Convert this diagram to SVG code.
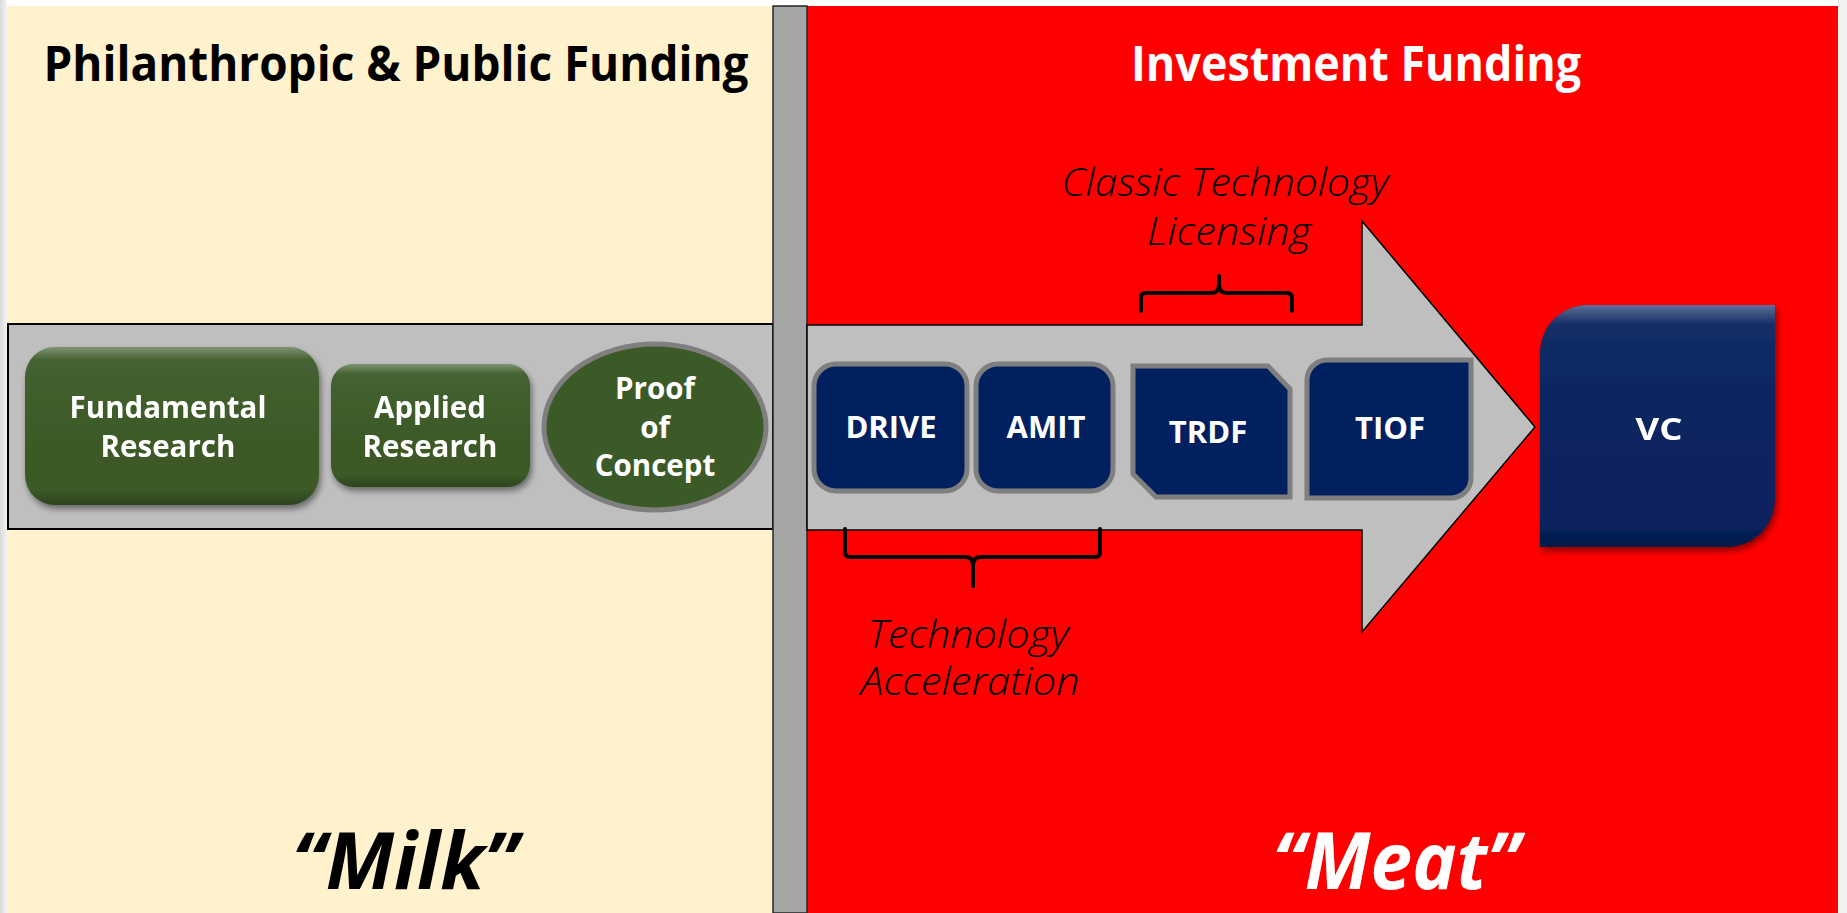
<svg xmlns="http://www.w3.org/2000/svg" width="1847" height="913" viewBox="0 0 1847 913">
<defs>
<style>
.hdr{font-family:"Open Sans","Noto Sans","Liberation Sans",sans-serif;font-weight:bold;}
.lbl{font-family:"Open Sans","Noto Sans","Liberation Sans",sans-serif;font-weight:bold;fill:#fff;font-size:29.5px;text-anchor:middle;}
.lbn{font-family:"Open Sans","Noto Sans","Liberation Sans",sans-serif;font-weight:bold;fill:#fff;font-size:31px;text-anchor:middle;}
.note{font-family:"Open Sans","Noto Sans","Liberation Sans",sans-serif;font-style:italic;font-weight:300;fill:#000;font-size:38px;text-anchor:middle;}
.big{font-family:"Open Sans","Noto Sans","Liberation Sans",sans-serif;font-style:italic;font-weight:bold;font-size:78px;text-anchor:middle;}
.green{fill:#3C5A27;}
.navy{fill:#012060;stroke:#7F7F7F;stroke-width:5;}
.brace{fill:none;stroke:#000;stroke-width:4;stroke-linecap:round;stroke-linejoin:round;}
</style>
<linearGradient id="bevel" x1="0" y1="0" x2="0" y2="1">
<stop offset="0" stop-color="#fff" stop-opacity="0.35"/>
<stop offset="0.08" stop-color="#fff" stop-opacity="0.05"/>
<stop offset="0.9" stop-color="#000" stop-opacity="0"/>
<stop offset="1" stop-color="#000" stop-opacity="0.25"/>
</linearGradient>
<linearGradient id="leftedge" x1="0" y1="0" x2="1" y2="0">
<stop offset="0" stop-color="#d9d9d9"/>
<stop offset="1" stop-color="#f4f4f4"/>
</linearGradient>
<filter id="shadow" x="-10%" y="-10%" width="130%" height="130%">
<feDropShadow dx="2" dy="4" stdDeviation="3" flood-color="#000" flood-opacity="0.45"/>
</filter>
</defs>
<rect x="0" y="0" width="1847" height="913" fill="#ffffff"/>
<rect x="0" y="0" width="7" height="913" fill="url(#leftedge)"/>
<rect x="1838" y="0" width="9" height="913" fill="#f2f2f2"/>
<g id="panel-left">
<rect x="7" y="6" width="767" height="907" fill="#FFF2CC"/>
<text class="hdr" x="396" y="81" font-size="48" text-anchor="middle" textLength="705" lengthAdjust="spacingAndGlyphs" fill="#000">Philanthropic &amp; Public Funding</text>
<text class="big" x="405" y="889" fill="#000" textLength="226" lengthAdjust="spacingAndGlyphs">“Milk”</text>
</g>
<g id="panel-right">
<rect x="807" y="6" width="1031" height="907" fill="#FF0000"/>
<text class="hdr" x="1356" y="81" font-size="48" text-anchor="middle" textLength="450" lengthAdjust="spacingAndGlyphs" fill="#fff">Investment Funding</text>
<text class="big" x="1396" y="889" fill="#fff" textLength="247" lengthAdjust="spacingAndGlyphs">“Meat”</text>
</g>
<g id="band-left">
<rect x="8" y="324" width="765" height="205" fill="#BFBFBF" stroke="#000" stroke-width="2"/>
</g>
<g id="divider">
<rect x="773" y="6" width="34" height="907" fill="#A6A6A6" stroke="#262626" stroke-width="1.5"/>
</g>
<g id="connectors">
<polygon points="807,325 1362,325 1362,221 1535,427 1362,632 1362,530 807,530" fill="#BFBFBF" stroke="#000" stroke-width="1.5"/>
<path class="brace" d="M1141,311 V298 Q1141,293 1146,293 H1212 Q1219,293 1219,284 V276 M1219,284 Q1219,293 1226,293 H1287 Q1292,293 1292,298 V311"/>
<path class="brace" d="M845,529 V552 Q845,557 850,557 H966 Q973,557 973,566 V586 M973,566 Q973,557 980,557 H1095 Q1100,557 1100,552 V529"/>
</g>
<g id="node-fundamental" filter="url(#shadow)">
<rect class="green" x="25" y="347" width="294" height="158" rx="30"/>
<rect x="25" y="347" width="294" height="158" rx="30" fill="url(#bevel)"/>
<text class="lbl" x="168" y="418">Fundamental</text>
<text class="lbl" x="168" y="457">Research</text>
</g>
<g id="node-applied" filter="url(#shadow)">
<rect class="green" x="331" y="364" width="199" height="123" rx="22"/>
<rect x="331" y="364" width="199" height="123" rx="22" fill="url(#bevel)"/>
<text class="lbl" x="430" y="418">Applied</text>
<text class="lbl" x="430" y="457">Research</text>
</g>
<g id="node-poc">
<ellipse cx="655" cy="427" rx="111" ry="83" fill="#3C5A27" stroke="#7F7F7F" stroke-width="5"/>
<text class="lbl" x="655" y="399">Proof</text>
<text class="lbl" x="655" y="438">of</text>
<text class="lbl" x="655" y="476">Concept</text>
</g>
<g id="node-drive">
<rect class="navy" x="814" y="364" width="153" height="127" rx="22"/>
<text class="lbn" x="891" y="438">DRIVE</text>
</g>
<g id="node-amit">
<rect class="navy" x="976" y="364" width="137" height="127" rx="22"/>
<text class="lbn" x="1046" y="438">AMIT</text>
</g>
<g id="node-trdf">
<path class="navy" d="M1133,366 H1268 L1290,389 V497 H1156 L1133,474 Z"/>
<text class="lbn" x="1208" y="443">TRDF</text>
</g>
<g id="node-tiof">
<path class="navy" d="M1327,360 H1471 V478 A20,20 0 0 1 1451,498 H1307 V380 A20,20 0 0 1 1327,360 Z"/>
<text class="lbn" x="1390" y="439">TIOF</text>
</g>
<g id="node-vc" filter="url(#shadow)">
<path d="M1588,305 H1775 V499 A48,48 0 0 1 1727,547 H1540 V353 A48,48 0 0 1 1588,305 Z" fill="#07235F"/>
<path d="M1588,305 H1775 V499 A48,48 0 0 1 1727,547 H1540 V353 A48,48 0 0 1 1588,305 Z" fill="url(#bevel)"/>
<text class="lbn" x="1659" y="440" font-size="40" textLength="47" lengthAdjust="spacingAndGlyphs">VC</text>
</g>
<g id="labels">
<text class="note" x="1225" y="196" textLength="327" lengthAdjust="spacingAndGlyphs">Classic Technology</text>
<text class="note" x="1229" y="245" textLength="164" lengthAdjust="spacingAndGlyphs">Licensing</text>
<text class="note" x="968" y="648" textLength="201" lengthAdjust="spacingAndGlyphs">Technology</text>
<text class="note" x="970" y="695" textLength="219" lengthAdjust="spacingAndGlyphs">Acceleration</text>
</g>
</svg>
